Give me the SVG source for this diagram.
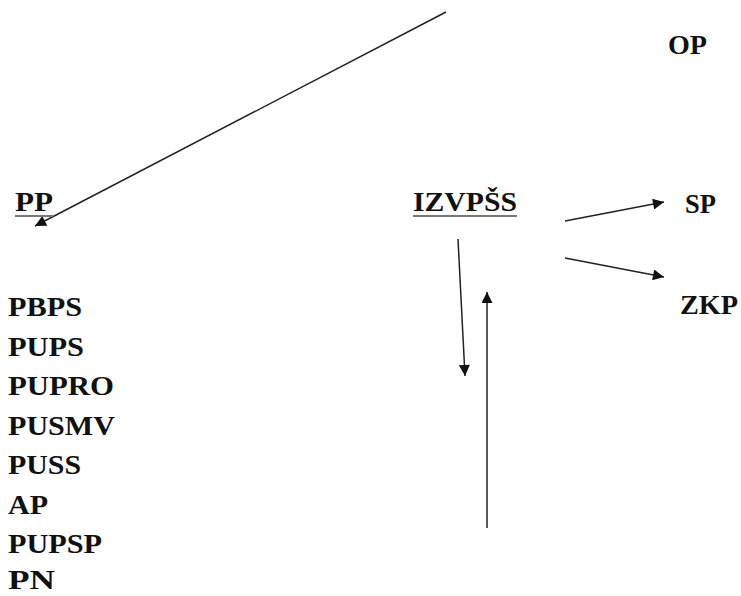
<svg xmlns="http://www.w3.org/2000/svg" width="741" height="596" viewBox="0 0 741 596">
<style>
text{font-family:"Liberation Serif","Times New Roman",serif;font-weight:bold;font-size:27px;fill:#111;}
.c{stroke:#222;stroke-width:1.5;fill:none;marker-end:url(#ah);}
.u{stroke:#777;stroke-width:2;}
</style>
<defs>
<marker id="ah" viewBox="0 0 10 10" refX="10" refY="5" markerWidth="12" markerHeight="11" markerUnits="userSpaceOnUse" orient="auto">
<path d="M0,0 L10,5 L0,10 z" fill="#111"/>
</marker>
</defs>
<rect width="741" height="596" fill="#fff"/>
<g id="connectors">
<line class="c" x1="446" y1="12" x2="35" y2="226"/>
<line class="c" x1="565" y1="221" x2="664" y2="202"/>
<line class="c" x1="565" y1="258" x2="664" y2="277"/>
<line class="c" x1="458" y1="239" x2="465" y2="376"/>
<line class="c" x1="487" y1="528" x2="487" y2="292"/>
</g>
<g id="OP"><text x="668" y="54" textLength="39" lengthAdjust="spacingAndGlyphs">OP</text></g>
<g id="PP"><text x="15" y="211" textLength="38" lengthAdjust="spacingAndGlyphs">PP</text><line class="u" x1="15" y1="216" x2="53" y2="216"/></g>
<g id="IZVPSS"><text x="413" y="211" textLength="104" lengthAdjust="spacingAndGlyphs">IZVPŠS</text><line class="u" x1="413" y1="216" x2="517" y2="216"/></g>
<g id="SP"><text x="685" y="213" textLength="31" lengthAdjust="spacingAndGlyphs">SP</text></g>
<g id="ZKP"><text x="680" y="314" textLength="58" lengthAdjust="spacingAndGlyphs">ZKP</text></g>
<g id="list">
<text x="8" y="316" textLength="74" lengthAdjust="spacingAndGlyphs">PBPS</text>
<text x="8" y="356" textLength="76" lengthAdjust="spacingAndGlyphs">PUPS</text>
<text x="8" y="395" textLength="106" lengthAdjust="spacingAndGlyphs">PUPRO</text>
<text x="8" y="435" textLength="107" lengthAdjust="spacingAndGlyphs">PUSMV</text>
<text x="8" y="474" textLength="73" lengthAdjust="spacingAndGlyphs">PUSS</text>
<text x="8" y="514" textLength="40" lengthAdjust="spacingAndGlyphs">AP</text>
<text x="8" y="553" textLength="94" lengthAdjust="spacingAndGlyphs">PUPSP</text>
<text x="8" y="589" textLength="47" lengthAdjust="spacingAndGlyphs">PN</text>
</g>
</svg>
